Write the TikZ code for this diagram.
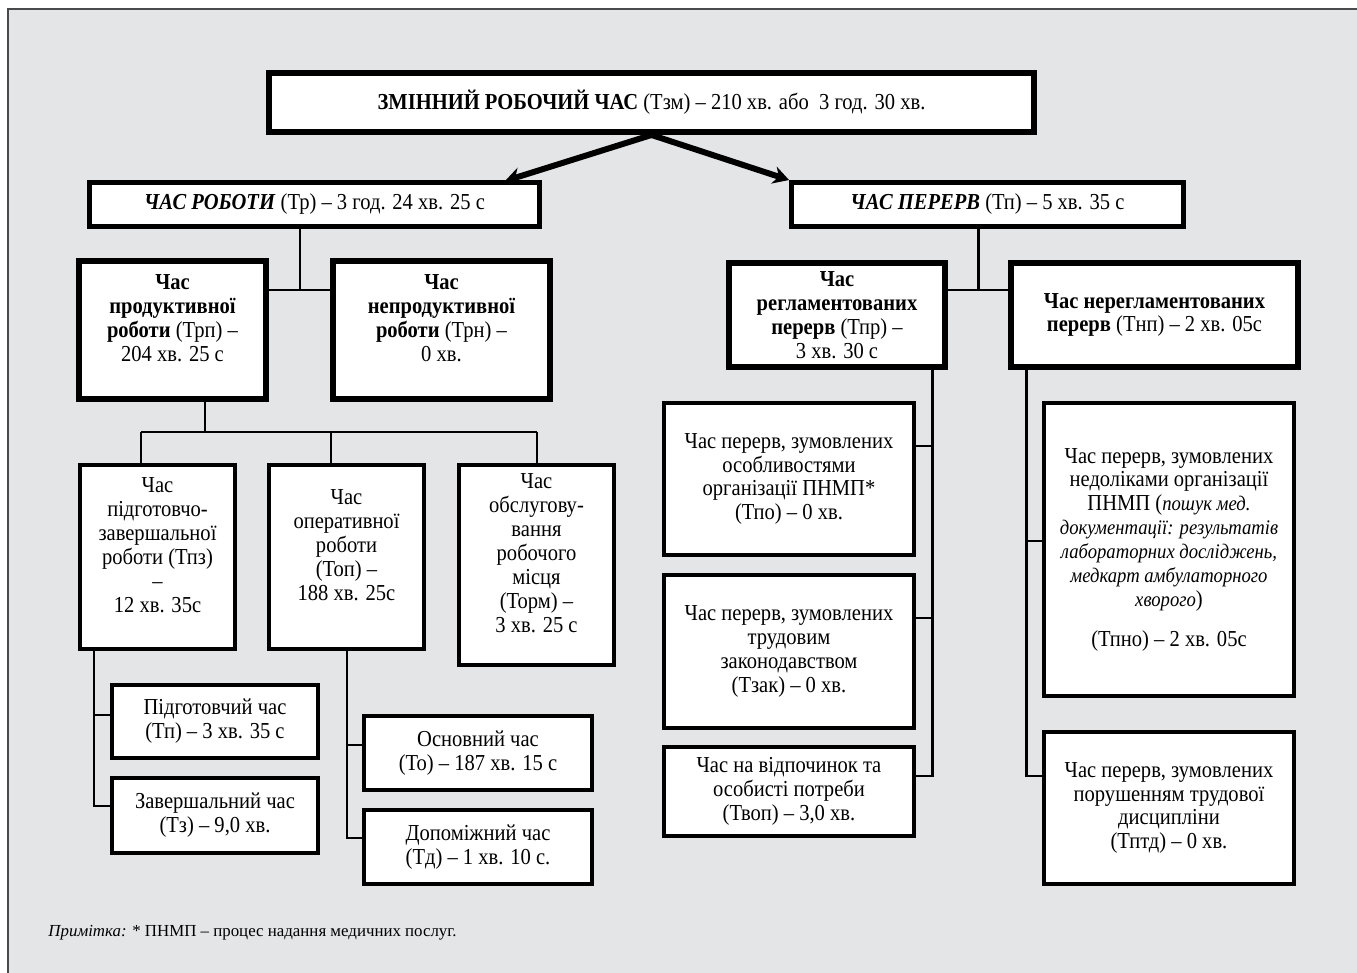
\documentclass[tikz,border=0pt]{standalone}
\usepackage{fontspec}
\setmainfont{Liberation Serif}[FakeStretch=0.9]
\newfontfamily\notefont{Liberation Serif}
\usetikzlibrary{arrows.meta}
\definecolor{panelgray}{HTML}{E4E5E7}
\definecolor{framegray}{HTML}{4A4A4A}
\newcommand\itl[1]{{\fontsize{11.8}{12.5}\selectfont\itshape #1}}

\begin{document}
\begin{tikzpicture}[x=.02cm,y=-.02cm,line width=1.7pt,
  box/.style={draw,fill=white,align=center,inner sep=1pt,font=\fontsize{13}{13.6}\selectfont},
  bigbox/.style={box,line width=3.4pt},
  midbox/.style={box,line width=2.8pt},
  smallbox/.style={box,line width=2.2pt},
  arr/.style={line width=3.4pt,-{Stealth[length=9pt,width=10pt]}}]
\useasboundingbox (0,0) rectangle (1357,973);
\fill[panelgray] (8,9) rectangle (1357,973);
\draw[framegray,line width=1.2pt] (8,973) -- (8,9) -- (1357,9);

\node[bigbox,minimum width=15.3cm,minimum height=1.18cm] (zmin) at (651.5,102.5) {\textbf{ЗМІННИЙ РОБОЧИЙ ЧАС} (Тзм) – 210 хв. або\ \ 3 год. 30 хв.};
\node[midbox,minimum width=9cm,minimum height=.88cm] (rob) at (314.5,204.5) {\textbf{\textit{ЧАС РОБОТИ}} (Тр) – 3 год. 24 хв. 25 с};
\node[midbox,minimum width=7.84cm,minimum height=.88cm] (per) at (987.5,204.5) {\textbf{\textit{ЧАС ПЕРЕРВ}} (Тп) – 5 хв. 35 с};

\node[bigbox,minimum width=3.74cm,minimum height=2.76cm] (prod) at (172.5,330) {\textbf{Час}\\\textbf{продуктивної}\\\textbf{роботи} (Трп) –\\204 хв. 25 с\\\mbox{}};
\node[bigbox,minimum width=4.34cm,minimum height=2.76cm] (neprod) at (441.5,330) {\textbf{Час}\\\textbf{непродуктивної}\\\textbf{роботи} (Трн) –\\0 хв.\\\mbox{}};
\node[bigbox,minimum width=4.32cm,minimum height=2.08cm] (regl) at (837,315) {\textbf{Час}\\\textbf{регламентованих}\\\textbf{перерв} (Тпр) –\\3 хв. 30 с};
\node[bigbox,minimum width=5.74cm,minimum height=2.08cm] (neregl) at (1154.5,315) {\textbf{Час нерегламентованих}\\\textbf{перерв} (Тнп) – 2 хв. 05с};

\node[smallbox,minimum width=3.1cm,minimum height=3.68cm] (tpz) at (157.5,557) {Час\\підготовчо-\\завершальної\\роботи (Тпз)\\–\\12 хв. 35с\\\mbox{}};
\node[smallbox,minimum width=3.1cm,minimum height=3.68cm] (top) at (346.5,557) {Час\\оперативної\\роботи\\(Топ) –\\188 хв. 25с\\\mbox{}};
\node[smallbox,minimum width=3.1cm,minimum height=4cm] (torm) at (536.5,565) {Час\\обслугову-\\вання\\робочого\\місця\\(Торм) –\\3 хв. 25 с\\\mbox{}};

\node[smallbox,minimum width=4.12cm,minimum height=1.46cm] (tp) at (215,721.5) {Підготовчий час\\(Тп) – 3 хв. 35 с};
\node[smallbox,minimum width=4.12cm,minimum height=1.5cm] (tz) at (215,815.5) {Завершальний час\\(Тз) – 9,0 хв.};
\node[smallbox,minimum width=4.56cm,minimum height=1.48cm] (to) at (478,753) {Основний час\\(То) – 187 хв. 15 с};
\node[smallbox,minimum width=4.56cm,minimum height=1.48cm] (td) at (478,847) {Допоміжний час\\(Тд) – 1 хв. 10 с.};

\node[smallbox,minimum width=5cm,minimum height=3.04cm] (tpo) at (789,479) {Час перерв, зумовлених\\особливостями\\організації ПНМП*\\(Тпо) – 0 хв.};
\node[smallbox,minimum width=5cm,minimum height=3.06cm] (tzak) at (789,651.5) {Час перерв, зумовлених\\трудовим\\законодавством\\(Тзак) – 0 хв.};
\node[smallbox,minimum width=5cm,minimum height=1.78cm] (tvop) at (789,791.5) {Час на відпочинок та\\особисті потреби\\(Твоп) – 3,0 хв.};
\node[smallbox,minimum width=5cm,minimum height=5.86cm] (tpno) at (1169,549.5) {Час перерв, зумовлених\\недоліками організації\\ПНМП (\itl{пошук мед.}\\\itl{документації: результатів}\\\itl{лабораторних досліджень,}\\\itl{медкарт амбулаторного}\\\itl{хворого})\\[9pt](Тпно) – 2 хв. 05с};
\node[smallbox,minimum width=5cm,minimum height=3.04cm] (tptd) at (1169,808) {Час перерв, зумовлених\\порушенням трудової\\дисципліни\\(Тптд) – 0 хв.};

\coordinate (robtip) at (505,181);
\draw[arr] (zmin.south) -- (robtip);
\draw[arr] (zmin.south) -- (per.north west);

\coordinate (j1) at (300,290);
\draw (rob.south -| j1) -- (j1);
\draw (prod.east |- j1) -- (neprod.west |- j1);
\coordinate (j2) at (978,290);
\draw (per.south -| j2) -- (j2);
\draw (regl.east |- j2) -- (neregl.west |- j2);

\coordinate (j3) at (205,432);
\coordinate (d1) at (141,432);
\coordinate (d2) at (331,432);
\coordinate (d3) at (537,432);
\draw (prod.south -| j3) -- (j3);
\draw (d1) -- (d3);
\foreach \d/\b in {d1/tpz,d2/top,d3/torm}
  \draw (\d) -- (\b.north -| \d);

\coordinate (k1) at (94,715);
\coordinate (k2) at (94,806);
\draw (tpz.south -| k1) -- (k2) -- (tz.west |- k2);
\draw (k1) -- (tp.west |- k1);
\coordinate (k3) at (347,745);
\coordinate (k4) at (347,838);
\draw (top.south -| k3) -- (k4) -- (td.west |- k4);
\draw (k3) -- (to.west |- k3);

\coordinate (m1) at (932,446);
\coordinate (m2) at (932,618);
\coordinate (m3) at (932,776);
\draw (regl.south -| m1) -- (m3) -- (tvop.east |- m3);
\draw (m1) -- (tpo.east |- m1);
\draw (m2) -- (tzak.east |- m2);
\coordinate (n1) at (1026,541);
\coordinate (n2) at (1026,776);
\draw (neregl.south -| n1) -- (n2) -- (tptd.west |- n2);
\draw (n1) -- (tpno.west |- n1);

\node[anchor=base west,inner sep=0pt,font=\notefont\fontsize{9.6}{11}\selectfont] (note) at (47,936) {\textit{Примітка:} * ПНМП – процес надання медичних послуг.};
\end{tikzpicture}
\end{document}
